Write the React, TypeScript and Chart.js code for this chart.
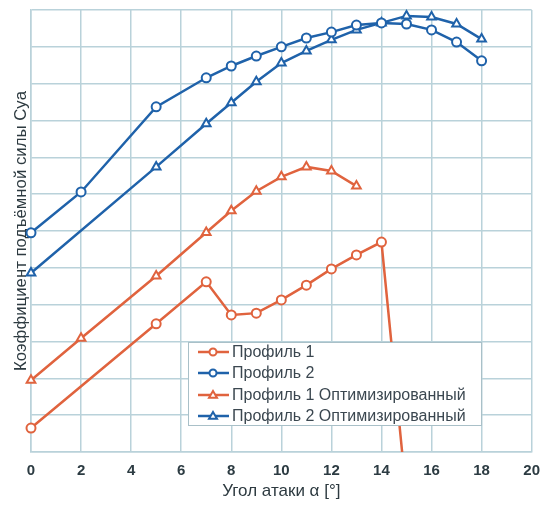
import React, { useEffect, useRef } from "react";
import { Chart, registerables } from "chart.js";

Chart.register(...registerables);

const anglesP1 = [0, 5, 7, 8, 9, 10, 11, 12, 13, 14, 15];
const cyaP1 = [0.065, 0.348, 0.462, 0.372, 0.377, 0.413, 0.453, 0.497, 0.535, 0.570, -0.12];

const anglesP2 = [0, 2, 5, 7, 8, 9, 10, 11, 12, 13, 14, 15, 16, 17, 18];
const cyaP2 = [0.595, 0.706, 0.937, 1.016, 1.048, 1.075, 1.1, 1.124, 1.14, 1.159, 1.165, 1.162, 1.146, 1.113, 1.062];

const anglesP1opt = [0, 2, 5, 7, 8, 9, 10, 11, 12, 13];
const cyaP1opt = [0.195, 0.309, 0.478, 0.596, 0.655, 0.708, 0.747, 0.774, 0.763, 0.722];

const anglesP2opt = [0, 5, 7, 8, 9, 10, 11, 12, 13, 14, 15, 16, 17, 18];
const cyaP2opt = [0.486, 0.774, 0.891, 0.948, 1.005, 1.056, 1.089, 1.119, 1.146, 1.165, 1.184, 1.181, 1.162, 1.121];

const seriesNames = ["Профиль 1", "Профиль 2", "Профиль 1 Оптимизированный", "Профиль 2 Оптимизированный"];
const xTitle = "Угол атаки α [°]";
const yTitle = "Коэффициент подъёмной силы Cya";

const ORANGE = "#e0633e";
const BLUE = "#1f62aa";
const GRID = "#b9d2da";
const FONT = "'Liberation Sans', Arial, sans-serif";

const toPts = (xs: number[], ys: number[]) => xs.map((x, i) => ({ x, y: ys[i] }));

const legendPlugin = {
  id: "innerLegend",
  afterDraw(chart: any) {
    const ctx = chart.ctx;
    const x0 = 188, y0 = 342, w = 293, h = 83;
    ctx.save();
    ctx.fillStyle = "#ffffff";
    ctx.fillRect(x0, y0, w, h);
    ctx.strokeStyle = "#a9c0c8";
    ctx.lineWidth = 1;
    ctx.strokeRect(x0 + 0.5, y0 + 0.5, w, h);
    const rows = [352, 373, 395, 416];
    chart.data.datasets.forEach((ds: any, i: number) => {
      const y = rows[i];
      ctx.strokeStyle = ds.borderColor;
      ctx.lineWidth = 2.5;
      ctx.beginPath();
      ctx.moveTo(198, y);
      ctx.lineTo(229, y);
      ctx.stroke();
      ctx.lineWidth = 2;
      ctx.fillStyle = "#ffffff";
      ctx.beginPath();
      if (ds.pointStyle === "triangle") {
        const r = 4;
        ctx.moveTo(213, y - r);
        ctx.lineTo(213 + r, y + r * 0.7);
        ctx.lineTo(213 - r, y + r * 0.7);
        ctx.closePath();
      } else {
        ctx.arc(213, y, 3.5, 0, Math.PI * 2);
      }
      ctx.fill();
      ctx.stroke();
      ctx.fillStyle = "#3b4750";
      ctx.font = "16px " + FONT;
      ctx.textBaseline = "middle";
      ctx.textAlign = "left";
      ctx.fillText(seriesNames[i], 232, y + 1);
    });
    ctx.restore();
  },
};

export default function App() {
  const ref = useRef<HTMLCanvasElement>(null);
  useEffect(() => {
    document.body.style.margin = "0";
    const mk = (label: string, xs: number[], ys: number[], color: string, style: string, clip: any) => ({
      label,
      data: toPts(xs, ys),
      borderColor: color,
      backgroundColor: "#ffffff",
      borderWidth: 2.5,
      pointStyle: style,
      pointRadius: style === "triangle" ? 5 : 4.5,
      pointBorderWidth: 2,
      pointBackgroundColor: "#ffffff",
      pointBorderColor: color,
      tension: 0,
      clip,
    });
    const chart = new Chart(ref.current!, {
      type: "line",
      data: {
        datasets: [
          mk(seriesNames[0], anglesP1, cyaP1, ORANGE, "circle", { left: 10, top: 10, right: 10, bottom: 0 }),
          mk(seriesNames[1], anglesP2, cyaP2, BLUE, "circle", false),
          mk(seriesNames[2], anglesP1opt, cyaP1opt, ORANGE, "triangle", false),
          mk(seriesNames[3], anglesP2opt, cyaP2opt, BLUE, "triangle", false),
        ],
      },
      options: {
        animation: false,
        responsive: false,
        layout: { padding: { top: 10, right: 16, left: 0, bottom: 0 } },
        plugins: { legend: { display: false }, tooltip: { enabled: false } },
        scales: {
          x: {
            type: "linear",
            min: 0,
            max: 20,
            ticks: { stepSize: 2, padding: 10, color: "#2c3b42", font: { size: 15, weight: "bold", family: FONT } },
            grid: { color: GRID, lineWidth: 1.5, drawTicks: false },
            border: { color: GRID, width: 1.5 },
            title: { display: true, text: xTitle, color: "#2d3a40", padding: { top: 0, bottom: 3 }, font: { size: 17, family: FONT } },
            afterFit: (s: any) => { s.height = 53; },
          },
          y: {
            type: "linear",
            min: 0,
            max: 1.2,
            ticks: { stepSize: 0.1, display: false },
            grid: { color: GRID, lineWidth: 1.5, drawTicks: false },
            border: { color: GRID, width: 1.5 },
            title: { display: true, text: yTitle, color: "#2d3a40", padding: { top: 11, bottom: 0 }, font: { size: 16.8, family: FONT } },
            afterFit: (s: any) => { s.width = 31; },
          },
        },
      } as any,
      plugins: [legendPlugin],
    });
    return () => chart.destroy();
  }, []);
  return <canvas ref={ref} width={550} height={505} style={{ display: "block" }} />;
}
